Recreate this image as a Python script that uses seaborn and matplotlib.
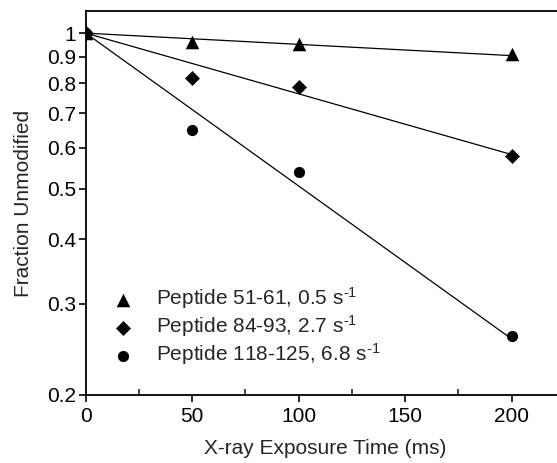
import numpy as np
import pandas as pd
import matplotlib
matplotlib.use("Agg")
import matplotlib.pyplot as plt
import seaborn as sns
from matplotlib.ticker import FixedLocator, NullFormatter, NullLocator

# values
times = [0, 50, 100, 200]
pep_51_61 = [1.0, 0.96, 0.953, 0.913]
pep_84_93 = [1.0, 0.82, 0.788, 0.58]
pep_118_125 = [1.0, 0.65, 0.54, 0.26]
rates = [0.5, 2.7, 6.8]  # s^-1, from legend
labels = [r"Peptide 51-61, 0.5 s$^{\text{-1}}$",
          r"Peptide 84-93, 2.7 s$^{\text{-1}}$",
          r"Peptide 118-125, 6.8 s$^{\text{-1}}$"]
y_ticks = [0.2, 0.3, 0.4, 0.5, 0.6, 0.7, 0.8, 0.9, 1]

rows = []
for lab, vals in zip(labels, [pep_51_61, pep_84_93, pep_118_125]):
    for t, v in zip(times, vals):
        rows.append({"time": t, "frac": v, "peptide": lab})
df = pd.DataFrame(rows)

fit_rows = []
for lab, k in zip(labels, rates):
    for t in [0, 200]:
        fit_rows.append({"time": t, "frac": np.exp(-k * t / 1000.0), "peptide": lab})
fit = pd.DataFrame(fit_rows)

sns.set_style("ticks")
plt.rcParams["font.family"] = ["Liberation Sans", "DejaVu Sans"]
plt.rcParams["mathtext.fontset"] = "custom"
plt.rcParams["mathtext.rm"] = "Liberation Sans"
plt.rcParams["mathtext.it"] = "Liberation Sans"
fs = 15

fig = plt.figure(figsize=(5.57, 4.63), dpi=100)
ax = fig.add_axes([0.154, 0.147, 0.86, 0.829])

for lab in labels:
    sub = fit[fit.peptide == lab]
    ax.plot(sub.time, sub.frac, color="black", lw=0.9, zorder=1)

marker_map = {labels[0]: ("^", 95), labels[1]: ("D", 58), labels[2]: ("o", 65)}
for lab in labels:
    m, s = marker_map[lab]
    sns.scatterplot(data=df[df.peptide == lab], x="time", y="frac",
                    marker=m, s=s, color="black", edgecolor="black",
                    linewidth=0, ax=ax, zorder=3, label=lab, legend=False)

ax.set_yscale("log")
ax.set_ylim(0.2, 1.103)
ax.set_xlim(0, 225)
ax.yaxis.set_major_locator(FixedLocator(y_ticks))
ax.set_yticklabels([str(t) for t in y_ticks])
ax.yaxis.set_minor_locator(NullLocator())
ax.yaxis.set_minor_formatter(NullFormatter())
ax.set_xticks([0, 50, 100, 150, 200])
ax.set_xticks([25, 75, 125, 175], minor=True)

ax.tick_params(axis="both", which="major", labelsize=fs, direction="out",
               length=5, width=1.2, color="black", labelcolor="black", pad=2)
ax.tick_params(axis="x", which="major", pad=4)
ax.tick_params(axis="x", which="minor", direction="in", length=4, width=1.2)
for side in ["left", "bottom", "top"]:
    ax.spines[side].set_linewidth(1.3)
    ax.spines[side].set_color("black")
ax.spines["right"].set_visible(False)

ax.set_xlabel("X-ray Exposure Time (ms)", fontsize=fs, labelpad=9)
ax.set_ylabel("Fraction Unmodified", fontsize=fs, labelpad=10)

leg = ax.legend(loc="lower left", bbox_to_anchor=(0.055, 0.072), frameon=False,
                fontsize=fs, handlelength=1.0, handletextpad=1.1,
                labelspacing=0.1, borderpad=0, borderaxespad=0)

fig.savefig("out.png", dpi=100)
